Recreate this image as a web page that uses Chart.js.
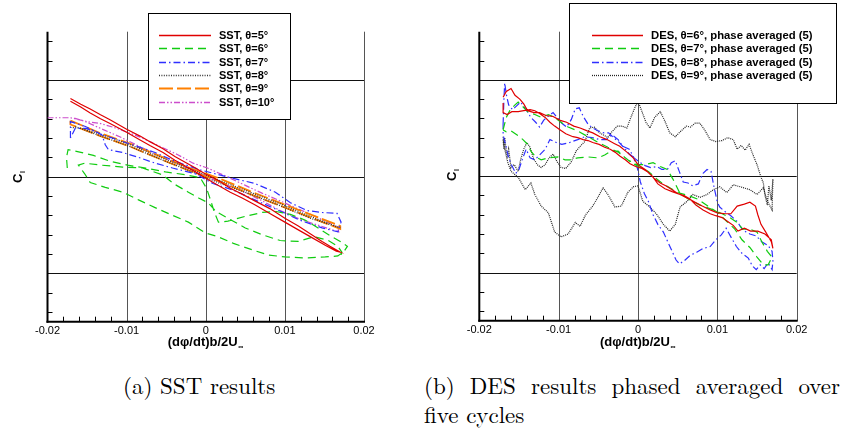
<!DOCTYPE html>
<html><head><meta charset="utf-8">
<script src="https://cdn.jsdelivr.net/npm/chart.js@4.4.1/dist/chart.umd.min.js"></script>
<style>
html,body{margin:0;padding:0;background:#fff;}
body{width:851px;height:430px;position:relative;overflow:hidden;}
canvas{position:absolute;top:0;}
.cap{position:absolute;font-size:23px;line-height:26px;color:#000;white-space:nowrap;transform-origin:0 0;}
</style></head><body>
<canvas id="cA" width="425" height="350" style="left:0"></canvas>
<canvas id="cB" width="426" height="350" style="left:425px"></canvas>
<div class="cap" id="capA" style="font-family:'Latin Modern Roman','Liberation Serif',serif;left:123px;top:375px"><span id="capAtext">(a) SST results</span></div>
<div class="cap" id="capB1" style="font-family:'Latin Modern Roman','Liberation Serif',serif;left:424px;top:375px;white-space:normal;text-align:justify;text-align-last:justify;">(b) DES results phased averaged over</div>
<div class="cap" id="capB2" style="font-family:'Latin Modern Roman','Liberation Serif',serif;left:424px;top:404px"><span id="capB2text">five cycles</span></div>
<script>
// ---------- axis / tick data ----------
const xTickValues = [-0.02, -0.01, 0, 0.01, 0.02];
const xTickLabels = ['-0.02', '-0.01', '0', '0.01', '0.02'];
const xGridValues = [-0.01, 0, 0.01];
const yGridValues = [-0.1, 0, 0.1];
const xMin = -0.02, xMax = 0.02, yMin = -0.15, yMax = 0.15;
const xMinorStep = 0.002, yMinorStep = 0.02;

// ---------- legend labels ----------
const sstLabels = ['SST, \u03b8=5\u00b0', 'SST, \u03b8=6\u00b0', 'SST, \u03b8=7\u00b0', 'SST, \u03b8=8\u00b0', 'SST, \u03b8=9\u00b0', 'SST, \u03b8=10\u00b0'];
const desLabels = ['DES, \u03b8=6\u00b0, phase averaged (5)', 'DES, \u03b8=7\u00b0, phase averaged (5)', 'DES, \u03b8=8\u00b0, phase averaged (5)', 'DES, \u03b8=9\u00b0, phase averaged (5)'];

// ---------- (a) SST series ----------
const sst5X = [-0.0171,-0.0158,-0.0146,-0.0133,-0.0121,-0.0100,-0.0083,-0.0070,-0.0054,-0.0039,-0.0026,-0.0013,-0.0001,0.0016,0.0031,0.0046,0.0062,0.0081,0.0100,0.0117,0.0132,0.0147,0.0157,0.0170,
  0.0165,0.0151,0.0132,0.0117,0.0100,0.0081,0.0062,0.0046,0.0031,0.0016,-0.0001,-0.0013,-0.0026,-0.0039,-0.0054,-0.0070,-0.0083,-0.0100,-0.0121,-0.0133,-0.0146,-0.0158,-0.0171];
const sst5Y = [0.081,0.075,0.070,0.064,0.059,0.049,0.042,0.036,0.029,0.021,0.015,0.009,0.003,-0.004,-0.012,-0.018,-0.025,-0.033,-0.043,-0.051,-0.059,-0.067,-0.072,-0.078,
  -0.077,-0.071,-0.062,-0.055,-0.047,-0.038,-0.029,-0.022,-0.016,-0.009,-0.001,0.005,0.011,0.017,0.025,0.032,0.038,0.046,0.055,0.060,0.066,0.072,0.078];

const sst6X = [-0.0175,-0.0176,-0.0174,-0.0162,-0.0142,-0.0121,-0.0099,-0.0076,-0.0051,-0.0026,-0.0007,0.0001,0.0006,0.0011,0.0016,0.0028,0.0050,0.0071,0.0089,0.0107,0.0126,0.0142,0.0157,0.0170,0.0179,0.0175,0.0167,0.0151,0.0126,0.0100,0.0079,0.0060,0.0035,0.0015,-0.0001,-0.0022,-0.0042,-0.0064,-0.0085,-0.0105,-0.0127,-0.0146,-0.0153,-0.0161,-0.0153,-0.0133,-0.0105,-0.0080,-0.0055,-0.0039,-0.0022,-0.0009,0.0003,0.0013,0.0028,0.0050,0.0071,0.0094,0.0117,0.0137,0.0155,0.0167,0.0172,0.0170];
const sst6Y = [0.009,0.020,0.028,0.026,0.022,0.016,0.012,0.009,0.005,0.002,-0.001,-0.012,-0.024,-0.037,-0.047,-0.046,-0.041,-0.037,-0.036,-0.039,-0.045,-0.053,-0.061,-0.067,-0.072,-0.077,-0.082,-0.083,-0.084,-0.083,-0.081,-0.076,-0.069,-0.062,-0.058,-0.047,-0.040,-0.032,-0.024,-0.016,-0.011,-0.006,0.003,0.012,0.014,0.012,0.010,0.009,0.002,-0.008,-0.016,-0.022,-0.027,-0.036,-0.043,-0.053,-0.060,-0.066,-0.067,-0.062,-0.066,-0.072,-0.078,-0.084];

const sst7X = [-0.0171,-0.0171,-0.0152,-0.0133,-0.0114,-0.0089,-0.0064,-0.0039,-0.0007,0.0031,0.0062,0.0088,0.0107,0.0128,0.0147,0.0166,0.0171,0.0167,0.0147,0.0119,0.0098,0.0062,0.0035,0.0009,-0.0013,-0.0042,-0.0064,-0.0085,-0.0105,-0.0123,-0.0127,-0.0131,-0.0139,-0.0152,-0.0165,-0.0168,-0.0171];
const sst7Y = [0.040,0.057,0.052,0.044,0.039,0.032,0.025,0.016,0.007,-0.001,-0.007,-0.016,-0.027,-0.035,-0.037,-0.038,-0.047,-0.057,-0.053,-0.045,-0.037,-0.024,-0.014,-0.007,0.003,0.009,0.014,0.020,0.025,0.028,0.033,0.043,0.047,0.050,0.050,0.045,0.040];

const sst8X = [-0.0171,-0.0158,-0.0133,-0.0095,-0.0057,-0.0020,0.0018,0.0056,0.0094,0.0132,0.0170,0.0132,0.0094,0.0056,0.0018,-0.0020,-0.0057,-0.0095,-0.0133,-0.0165];
const sst8Y = [0.051,0.050,0.044,0.033,0.020,0.008,-0.004,-0.016,-0.028,-0.041,-0.053,-0.043,-0.030,-0.018,-0.007,0.006,0.018,0.031,0.042,0.052];

const sst9X = [-0.0171,-0.0133,-0.0095,-0.0057,-0.0020,0.0018,0.0056,0.0094,0.0132,0.0170,0.0170,0.0132,0.0094,0.0056,0.0018,-0.0020,-0.0057,-0.0095,-0.0133,-0.0171,-0.0171];
const sst9Y = [0.058,0.045,0.034,0.021,0.009,-0.002,-0.015,-0.027,-0.039,-0.051,-0.054,-0.042,-0.030,-0.018,-0.005,0.006,0.018,0.031,0.042,0.054,0.058];

const sst10X = [-0.0200,-0.0171,-0.0150,-0.0133,-0.0112,-0.0083,-0.0057,-0.0036,-0.0016,0.0002,0.0027,0.0050,0.0071,0.0094,0.0113,0.0138,0.0167,0.0168,0.0145,0.0119,0.0094,0.0069,0.0044,0.0018,-0.0007,-0.0032,-0.0057,-0.0083,-0.0108,-0.0133,-0.0152,-0.0168];
const sst10Y = [0.061,0.061,0.057,0.055,0.050,0.041,0.031,0.023,0.014,0.009,0.000,-0.009,-0.017,-0.025,-0.032,-0.041,-0.052,-0.057,-0.051,-0.044,-0.035,-0.024,-0.014,-0.006,0.003,0.012,0.021,0.031,0.041,0.050,0.057,0.061];

// ---------- (b) DES series ----------
const des6X = [-0.0170,-0.0166,-0.0160,-0.0155,-0.0149,-0.0144,-0.0139,-0.0131,-0.0124,-0.0116,-0.0107,-0.0098,-0.0090,-0.0081,-0.0073,-0.0064,-0.0057,-0.0048,-0.0039,-0.0030,-0.0023,-0.0014,-0.0006,0.0000,0.0009,0.0018,0.0025,0.0034,0.0043,0.0053,0.0063,0.0072,0.0081,0.0091,0.0100,0.0110,0.0117,0.0125,0.0134,0.0141,0.0148,0.0151,0.0155,0.0161,0.0168,0.0170,
  0.0168,0.0160,0.0151,0.0142,0.0134,0.0126,0.0120,0.0113,0.0106,0.0098,0.0091,0.0082,0.0073,0.0066,0.0058,0.0050,0.0043,0.0035,0.0028,0.0020,0.0013,0.0005,-0.0003,-0.0010,-0.0016,-0.0023,-0.0029,-0.0035,-0.0042,-0.0049,-0.0057,-0.0063,-0.0069,-0.0076,-0.0082,-0.0091,-0.0098,-0.0105,-0.0111,-0.0117,-0.0124,-0.0130,-0.0136,-0.0144,-0.0151,-0.0159,-0.0165,-0.0170,-0.0170];
const des6Y = [0.082,0.088,0.091,0.084,0.080,0.075,0.068,0.066,0.066,0.063,0.062,0.058,0.056,0.052,0.050,0.047,0.045,0.041,0.038,0.034,0.031,0.025,0.019,0.012,0.007,0.000,-0.008,-0.013,-0.016,-0.019,-0.023,-0.027,-0.031,-0.035,-0.038,-0.039,-0.039,-0.031,-0.029,-0.027,-0.031,-0.040,-0.050,-0.058,-0.068,-0.075,
  -0.066,-0.060,-0.057,-0.057,-0.054,-0.057,-0.051,-0.047,-0.043,-0.041,-0.039,-0.035,-0.030,-0.024,-0.020,-0.018,-0.014,-0.010,-0.007,-0.002,0.004,0.008,0.010,0.013,0.017,0.021,0.025,0.028,0.030,0.033,0.035,0.037,0.038,0.040,0.041,0.044,0.048,0.052,0.056,0.061,0.065,0.068,0.069,0.068,0.067,0.067,0.064,0.066,0.076];

const des7X = [-0.0170,-0.0166,-0.0161,-0.0155,-0.0151,-0.0146,-0.0139,-0.0130,-0.0122,-0.0113,-0.0105,-0.0097,-0.0088,-0.0076,-0.0063,-0.0050,-0.0038,-0.0025,-0.0013,-0.0001,0.0009,0.0019,0.0028,0.0037,0.0044,0.0053,0.0066,0.0078,0.0095,0.0106,0.0116,0.0125,0.0132,0.0141,0.0150,0.0156,0.0163,0.0169,
  0.0164,0.0158,0.0150,0.0141,0.0131,0.0122,0.0112,0.0101,0.0088,0.0076,0.0063,0.0050,0.0040,0.0030,0.0021,0.0013,0.0003,-0.0008,-0.0016,-0.0025,-0.0034,-0.0042,-0.0050,-0.0063,-0.0076,-0.0086,-0.0092,-0.0101,-0.0113,-0.0122,-0.0129,-0.0135,-0.0139,-0.0145,-0.0151,-0.0160,-0.0166,-0.0170];
const des7Y = [0.048,0.061,0.069,0.074,0.077,0.073,0.067,0.064,0.061,0.064,0.061,0.056,0.051,0.047,0.041,0.035,0.030,0.025,0.017,0.012,0.012,0.014,0.010,0.007,-0.003,-0.018,-0.025,-0.030,-0.035,-0.039,-0.043,-0.048,-0.055,-0.055,-0.058,-0.068,-0.078,-0.084,
  -0.092,-0.092,-0.084,-0.074,-0.066,-0.055,-0.047,-0.038,-0.031,-0.024,-0.020,-0.017,-0.012,-0.007,-0.001,0.005,0.009,0.014,0.019,0.026,0.026,0.022,0.019,0.020,0.019,0.017,0.017,0.020,0.019,0.017,0.020,0.026,0.033,0.038,0.042,0.047,0.046,0.048];

const des8X = [-0.0170,-0.0169,-0.0168,-0.0166,-0.0163,-0.0158,-0.0153,-0.0148,-0.0141,-0.0135,-0.0129,-0.0124,-0.0119,-0.0112,-0.0107,-0.0102,-0.0096,-0.0090,-0.0084,-0.0079,-0.0074,-0.0069,-0.0063,-0.0057,-0.0050,-0.0043,-0.0037,-0.0032,-0.0025,-0.0018,-0.0011,-0.0006,-0.0001,0.0003,0.0008,0.0013,0.0019,0.0025,0.0032,0.0038,0.0043,0.0048,0.0052,0.0058,0.0066,0.0074,0.0082,0.0091,0.0098,0.0105,0.0111,0.0117,0.0124,0.0131,0.0139,0.0144,0.0149,0.0154,0.0159,0.0164,0.0169,0.0170,
  0.0169,0.0164,0.0156,0.0149,0.0141,0.0132,0.0125,0.0117,0.0110,0.0103,0.0100,0.0096,0.0092,0.0087,0.0082,0.0076,0.0069,0.0063,0.0057,0.0052,0.0047,0.0042,0.0037,0.0030,0.0024,0.0016,0.0009,0.0003,-0.0005,-0.0011,-0.0019,-0.0025,-0.0033,-0.0040,-0.0048,-0.0058,-0.0067,-0.0076,-0.0086,-0.0096,-0.0103,-0.0111,-0.0117,-0.0124,-0.0130,-0.0136,-0.0141,-0.0146,-0.0150,-0.0154,-0.0159,-0.0163,-0.0166,-0.0170,-0.0170];
const des8Y = [0.054,0.079,0.097,0.085,0.074,0.069,0.073,0.077,0.069,0.061,0.056,0.051,0.058,0.063,0.066,0.061,0.055,0.051,0.059,0.070,0.071,0.062,0.054,0.050,0.047,0.045,0.045,0.041,0.036,0.030,0.023,0.020,0.009,-0.006,-0.018,-0.026,-0.040,-0.050,-0.058,-0.069,-0.078,-0.087,-0.091,-0.088,-0.082,-0.079,-0.075,-0.073,-0.066,-0.061,-0.054,-0.063,-0.073,-0.080,-0.085,-0.093,-0.097,-0.092,-0.096,-0.090,-0.097,-0.088,
  -0.078,-0.072,-0.068,-0.062,-0.060,-0.056,-0.047,-0.041,-0.037,-0.032,-0.027,-0.012,0.005,0.007,0.003,-0.008,-0.010,-0.007,-0.006,0.005,0.016,0.014,0.007,0.007,0.010,0.009,0.011,0.014,0.019,0.028,0.031,0.038,0.043,0.038,0.038,0.040,0.041,0.038,0.035,0.033,0.035,0.038,0.028,0.022,0.017,0.019,0.028,0.017,0.007,0.003,0.011,0.019,0.030,0.043,0.054];

const des9X = [-0.0170,-0.0169,-0.0168,-0.0165,-0.0163,-0.0160,-0.0156,-0.0151,-0.0148,-0.0144,-0.0140,-0.0136,-0.0132,-0.0127,-0.0122,-0.0117,-0.0112,-0.0107,-0.0102,-0.0097,-0.0091,-0.0084,-0.0078,-0.0073,-0.0067,-0.0061,-0.0055,-0.0050,-0.0044,-0.0038,-0.0033,-0.0026,-0.0020,-0.0014,-0.0009,-0.0004,0.0000,0.0005,0.0010,0.0015,0.0021,0.0028,0.0034,0.0040,0.0047,0.0053,0.0061,0.0066,0.0072,0.0078,0.0084,0.0091,0.0098,0.0106,0.0113,0.0120,0.0125,0.0130,0.0135,0.0140,0.0145,0.0150,0.0155,0.0158,0.0160,0.0163,0.0165,0.0168,0.0170,0.0169,
  0.0163,0.0158,0.0150,0.0141,0.0129,0.0120,0.0112,0.0103,0.0095,0.0087,0.0078,0.0069,0.0062,0.0053,0.0047,0.0040,0.0032,0.0024,0.0015,0.0006,0.0000,-0.0006,-0.0013,-0.0021,-0.0029,-0.0038,-0.0044,-0.0050,-0.0057,-0.0066,-0.0073,-0.0079,-0.0088,-0.0097,-0.0105,-0.0113,-0.0122,-0.0130,-0.0135,-0.0142,-0.0151,-0.0160,-0.0164,-0.0168,-0.0170];
const des9Y = [0.038,0.028,0.040,0.019,0.028,0.009,0.012,0.005,0.017,0.028,0.035,0.030,0.019,0.012,0.009,0.012,0.019,0.023,0.015,0.009,0.008,0.015,0.026,0.031,0.036,0.050,0.051,0.046,0.043,0.040,0.046,0.052,0.052,0.050,0.061,0.071,0.078,0.067,0.056,0.050,0.061,0.067,0.057,0.045,0.041,0.046,0.052,0.051,0.055,0.055,0.048,0.038,0.036,0.037,0.040,0.038,0.028,0.032,0.027,0.033,0.022,0.012,-0.001,-0.007,-0.020,-0.030,-0.010,-0.025,-0.003,-0.035,
  -0.026,-0.012,-0.019,-0.014,-0.011,-0.009,-0.017,-0.011,-0.014,-0.019,-0.022,-0.019,-0.026,-0.032,-0.050,-0.057,-0.050,-0.040,-0.032,-0.026,-0.010,-0.011,-0.017,-0.031,-0.032,-0.019,-0.012,-0.021,-0.031,-0.040,-0.052,-0.048,-0.060,-0.063,-0.058,-0.038,-0.031,-0.019,-0.007,-0.014,-0.001,0.005,0.014,0.028,0.041];

// ---------- styles ----------
const ST = {
  red:     {color:'#e00000', dash:[],                 width:1.2},
  green:   {color:'#10cc10', dash:[8,5],              width:1.2},
  blue:    {color:'#2f2fff', dash:[7,3,1.5,3],        width:1.2},
  black:   {color:'#333333', dash:[1,1.4],            width:1.2},
  orange:  {color:'#ff8000', dash:[14,4],             width:1.8},
  magenta: {color:'#cc4dcc', dash:[6,2,1.5,2,1.5,2],  width:1.2},
  dots:    {color:'#222222', dash:[1,1],              width:1.2}
};
const FONT = "'Liberation Sans', Arial, Helvetica, sans-serif";

function pts(xs, ys){ const n = Math.min(xs.length, ys.length), out = []; for (let i=0;i<n;i++) out.push({x:xs[i], y:ys[i]}); return out; }

function framePlugin(cfg, series){
  const L = (ctx,x1,y1,x2,y2)=>{ctx.beginPath();ctx.moveTo(x1,y1);ctx.lineTo(x2,y2);ctx.stroke();};
  return {
    id: 'frame' + cfg.id,
    beforeDatasetsDraw(chart){
      const {ctx, chartArea:a, scales:{x, y}} = chart;
      const px = v => Math.round(x.getPixelForValue(v)) + 0.5;
      const py = v => Math.round(y.getPixelForValue(v)) + 0.5;
      ctx.save(); ctx.setLineDash([]); ctx.lineWidth = 1;
      ctx.strokeStyle = '#555';
      xGridValues.forEach(v => L(ctx, px(v), a.top, px(v), a.bottom));
      L(ctx, px(xMax), a.top, px(xMax), a.bottom);
      ctx.strokeStyle = '#111';
      yGridValues.forEach(v => L(ctx, a.left, py(v), a.right, py(v)));
      ctx.strokeStyle = '#000';
      for (let k=-7;k<=7;k++){ if (k%5===0) continue; const yy = py(k*yMinorStep); L(ctx, a.left, yy, a.left+5, yy); }
      for (let k=-9;k<=9;k++){ if (k%5===0) continue; const xx = px(k*xMinorStep); L(ctx, xx, a.bottom, xx, a.bottom-5); }
      ctx.lineWidth = 2;
      L(ctx, a.left, a.top, a.left, a.bottom+1);
      L(ctx, a.left-1, a.bottom, a.right+1, a.bottom);
      ctx.restore();
    },
    afterDatasetsDraw(chart){
      const {ctx, scales:{x}} = chart;
      ctx.save();
      const b = cfg.box;
      ctx.fillStyle = '#fff'; ctx.fillRect(b[0], b[1], b[2], b[3]);
      ctx.strokeStyle = '#000'; ctx.lineWidth = 1; ctx.setLineDash([]);
      ctx.strokeRect(b[0]+0.5, b[1]+0.5, b[2], b[3]);
      ctx.font = 'bold ' + cfg.legendFont + 'px ' + FONT;
      ctx.textBaseline = 'middle'; ctx.textAlign = 'left';
      series.forEach((s,i) => {
        const yy = Math.round(cfg.row0 + i*cfg.rowDy) + 0.5;
        ctx.beginPath();
        ctx.setLineDash(s.st.dash);
        ctx.strokeStyle = s.st.color;
        ctx.lineWidth = Math.max(1.3, s.st.width);
        ctx.moveTo(cfg.line[0], yy); ctx.lineTo(cfg.line[1], yy);
        ctx.stroke();
        ctx.setLineDash([]);
        ctx.fillStyle = '#000';
        ctx.fillText(s.label, cfg.textX, yy);
      });
      ctx.save();
      ctx.translate(cfg.yl[0], cfg.yl[1]); ctx.rotate(-Math.PI/2);
      ctx.fillStyle = '#000'; ctx.textBaseline = 'alphabetic';
      ctx.font = 'bold 13px ' + FONT; ctx.fillText('C', 0, 0);
      const w = ctx.measureText('C').width;
      ctx.font = 'bold 7px ' + FONT; ctx.fillText('l', w + 0.5, 3);
      ctx.restore();
      const cx = x.getPixelForValue(0) - 3;
      ctx.font = 'bold 13px ' + FONT; ctx.textAlign = 'center'; ctx.textBaseline = 'alphabetic'; ctx.fillStyle = '#000';
      const t = '(d\u03c6/dt)b/2U';
      ctx.fillText(t, cx, cfg.xTitleY);
      const tw = ctx.measureText(t).width;
      ctx.font = 'bold 7px ' + FONT; ctx.textAlign = 'left';
      ctx.fillText('\u221e', cx + tw/2 + 0.5, cfg.xTitleY + 3);
      ctx.restore();
    }
  };
}

function makeChart(id, series, cfg){
  const datasets = series.map(s => ({
    label: s.label, data: pts(s.x, s.y), showLine: true,
    borderColor: s.st.color, borderWidth: s.st.width, borderDash: s.st.dash,
    pointRadius: 0, pointHoverRadius: 0, fill: false, tension: 0
  }));
  return new Chart(document.getElementById(id), {
    type: 'scatter',
    data: {datasets},
    options: {
      responsive: false, animation: false, devicePixelRatio: 1, events: [],
      layout: {padding: cfg.pad},
      plugins: {legend: {display: false}, tooltip: {enabled: false}},
      scales: {
        x: {
          type: 'linear', min: xMin, max: xMax,
          grid: {display: false, drawTicks: false}, border: {display: false},
          afterBuildTicks: sc => { sc.ticks = xTickValues.map(v => ({value: v})); },
          afterFit: sc => { sc.height = 20; },
          ticks: {autoSkip: false, maxRotation: 0, padding: 3, color: '#000',
                  font: {family: FONT, size: 11}, callback: (v, i) => xTickLabels[i]}
        },
        y: {type: 'linear', display: false, min: yMin, max: yMax}
      }
    },
    plugins: [framePlugin(cfg, series)]
  });
}

makeChart('cA', [
  {label: sstLabels[0], x: sst5X,  y: sst5Y,  st: ST.red},
  {label: sstLabels[1], x: sst6X,  y: sst6Y,  st: ST.green},
  {label: sstLabels[2], x: sst7X,  y: sst7Y,  st: ST.blue},
  {label: sstLabels[3], x: sst8X,  y: sst8Y,  st: ST.black},
  {label: sstLabels[4], x: sst9X,  y: sst9Y,  st: ST.orange},
  {label: sstLabels[5], x: sst10X, y: sst10Y, st: ST.magenta}
], {id:'A', pad:{left:47.5, right:61, top:31.7, bottom:8.3}, box:[148,13,142,106], line:[159,211], textX:219, row0:34.7, rowDy:13.4, legendFont:11, yl:[22,183], xTitleY:346});

makeChart('cB', [
  {label: desLabels[0], x: des6X, y: des6Y, st: ST.red},
  {label: desLabels[1], x: des7X, y: des7Y, st: ST.green},
  {label: desLabels[2], x: des8X, y: des8Y, st: ST.blue},
  {label: desLabels[3], x: des9X, y: des9Y, st: ST.dots}
], {id:'B', pad:{left:54.3, right:54.3, top:31.7, bottom:9.3}, box:[144,3,267,100], line:[167,218], textX:226, row0:34.7, rowDy:13.5, legendFont:11.3, yl:[30.5,181], xTitleY:346});

// ---------- captions: fit to the widths and baselines of the original ----------
function baselineOf(el){
  const m = document.createElement('span');
  m.style.cssText = 'display:inline-block;width:0;height:0;vertical-align:baseline';
  el.insertBefore(m, el.firstChild);
  const d = m.getBoundingClientRect().top - el.getBoundingClientRect().top;
  el.removeChild(m);
  return d;
}
function layoutCaptions(){
  const capA = document.getElementById('capA'), capB1 = document.getElementById('capB1'), capB2 = document.getElementById('capB2');
  const wA = document.getElementById('capAtext').getBoundingClientRect().width;
  const s = 160.6 / wA;
  capA.style.transform = 'scaleX(' + s + ')';
  capB1.style.width = (416 / s) + 'px';
  capB1.style.transform = 'scaleX(' + s + ')';
  capB2.style.transform = 'scaleX(' + s + ')';
  capA.style.top  = (394.3 - baselineOf(capA)) + 'px';
  capB1.style.top = (394.3 - baselineOf(capB1)) + 'px';
  capB2.style.top = (423.3 - baselineOf(capB2)) + 'px';
}
layoutCaptions();
if (document.fonts && document.fonts.ready) document.fonts.ready.then(layoutCaptions);
</script>
</body></html>
